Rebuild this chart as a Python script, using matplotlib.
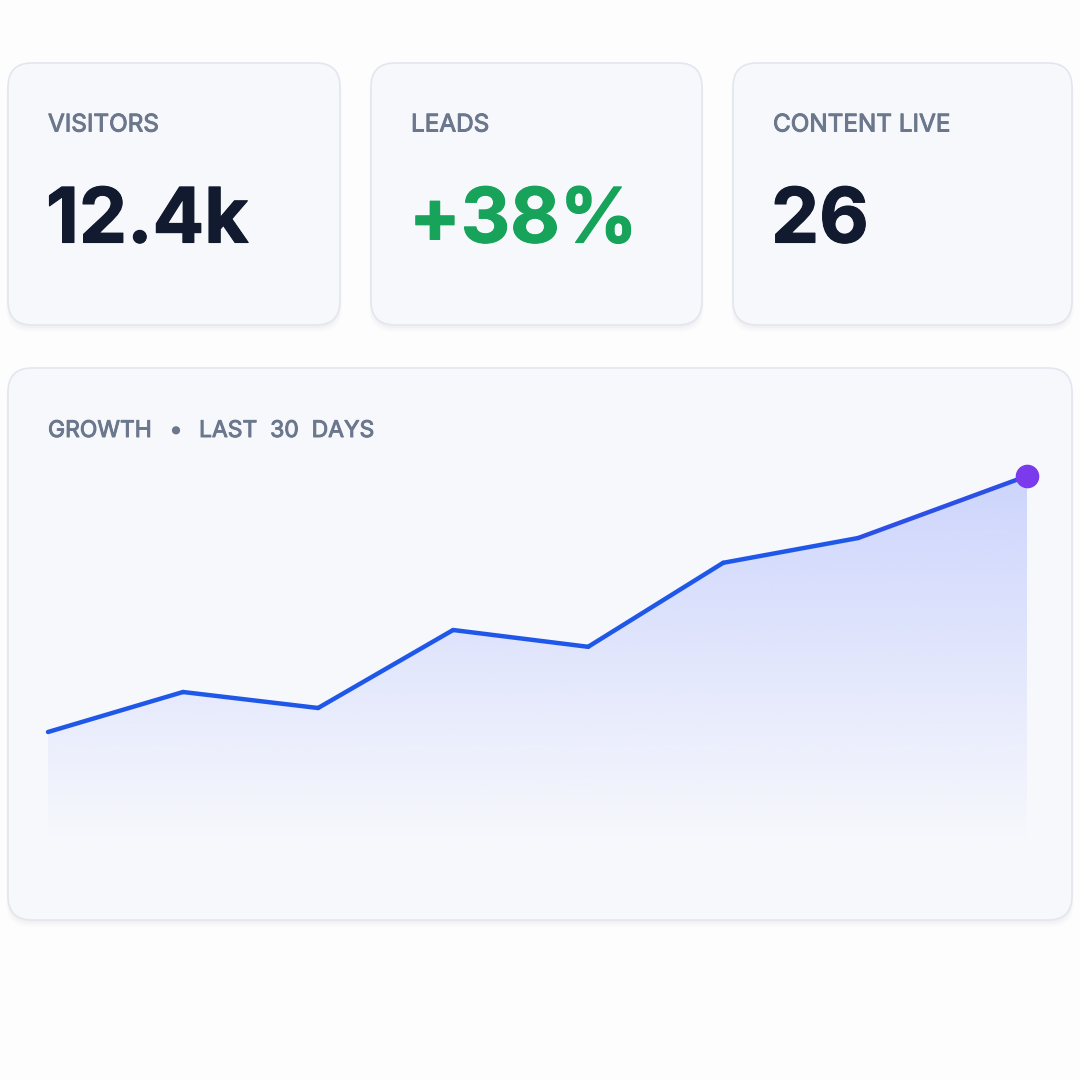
import numpy as np
import matplotlib
matplotlib.use('Agg')
import matplotlib.pyplot as plt
import matplotlib.patheffects as pe
from matplotlib.patches import FancyBboxPatch
from matplotlib.collections import LineCollection
from matplotlib.colors import to_rgb

# KPI cards
kpi_labels = ['VISITORS', 'LEADS', 'CONTENT LIVE']
kpi_values = ['12.4k', '+38%', '26']
kpi_colors = ['#111a2e', '#17a35a', '#111a2e']

# growth series, last 30 days (index = day - 1)
days = [0, 4, 8, 12, 16, 20, 24, 29]
growth = [3.7, 4.7, 4.3, 6.25, 5.83, 7.93, 8.55, 10.1]
title_parts = ['GROWTH', '•', 'LAST  30  DAYS']

plt.rcParams['font.family'] = ['Inter', 'DejaVu Sans']

fig = plt.figure(figsize=(10.8, 10.8), dpi=100)
fig.patch.set_facecolor('#fdfdfe')
bg = fig.add_axes([0, 0, 1, 1])
bg.set_xlim(0, 1080)
bg.set_ylim(1080, 0)
bg.axis('off')

label_col = '#6b778c'
label_fx = [pe.withStroke(linewidth=0.7, foreground=label_col)]


def card(x0, y0, x1, y1):
    # soft shadow
    for i, a in enumerate([0.018, 0.014, 0.010]):
        s = FancyBboxPatch((x0 - i, y0 + 3 + 2 * i), x1 - x0 + 2 * i, y1 - y0,
                           boxstyle='round,pad=0,rounding_size=24',
                           fc='#1e293b', ec='none', alpha=a, zorder=1)
        bg.add_patch(s)
    p = FancyBboxPatch((x0, y0), x1 - x0, y1 - y0,
                       boxstyle='round,pad=0,rounding_size=24',
                       fc='#f7f8fc', ec='#e3e6ee', lw=1.2, zorder=2)
    bg.add_patch(p)


card_x = [(8, 340), (371, 702), (733, 1072)]
for (x0, x1), lab, val, col in zip(card_x, kpi_labels, kpi_values, kpi_colors):
    card(x0, 63, x1, 325)
    bg.text(x0 + 40, 125, lab, fontsize=17.5, color=label_col, va='center',
            ha='left', zorder=3, path_effects=label_fx)
    bg.text(x0 + 38, 223, val, fontsize=55, fontweight='bold', color=col,
            va='center', ha='left', zorder=3,
            path_effects=[pe.withStroke(linewidth=0.8, foreground=col)])

card(8, 368, 1072, 920)
for tx, part in zip([48, 176, 199], title_parts):
    bg.text(tx, 431, part, fontsize=16.5, color=label_col, va='center',
            ha='center' if part == '•' else 'left', zorder=3,
            path_effects=label_fx)

# chart axes: x 48..1027 px, y 880 (0) .. 440 (11) px
ax = fig.add_axes([48 / 1080, (1080 - 880) / 1080, (1027 - 48) / 1080, 440 / 1080])
ax.set_xlim(days[0], days[-1])
ax.set_ylim(0, 11)
ax.axis('off')
ax.patch.set_alpha(0)

# vertical gradient fill under the line
top_rgb = to_rgb('#a5b4fc')
n = 256
yy = np.linspace(0, 11, n)
alpha = np.clip((yy - 1.0) / (growth[-1] - 1.0), 0, 1) * 0.52
grad = np.zeros((n, 1, 4))
grad[:, 0, :3] = top_rgb
grad[:, 0, 3] = alpha
poly = ax.fill_between(days, growth, 0, color='none', lw=0)
im = ax.imshow(grad, extent=[days[0], days[-1], 0, 11], origin='lower',
               aspect='auto', zorder=3)
path = poly.get_paths()[0]
im.set_clip_path(path, transform=ax.transData)

# line with colour shifting to violet at the end
pts = np.column_stack([days, growth])
segs = np.stack([pts[:-1], pts[1:]], axis=1)
seg_colors = ['#1f58e8'] * 6 + ['#2c4fe6', '#4a3fe4']
lc = LineCollection(segs, colors=seg_colors, linewidths=3.2, capstyle='round',
                    joinstyle='round', zorder=4)
lc.set_clip_on(False)
ax.add_collection(lc)
ax.plot(days[-1], growth[-1], 'o', ms=16, color='#7c3aed', mec='#7c3aed',
        zorder=5, clip_on=False)

fig.savefig('out.png', dpi=100, facecolor=fig.get_facecolor())
